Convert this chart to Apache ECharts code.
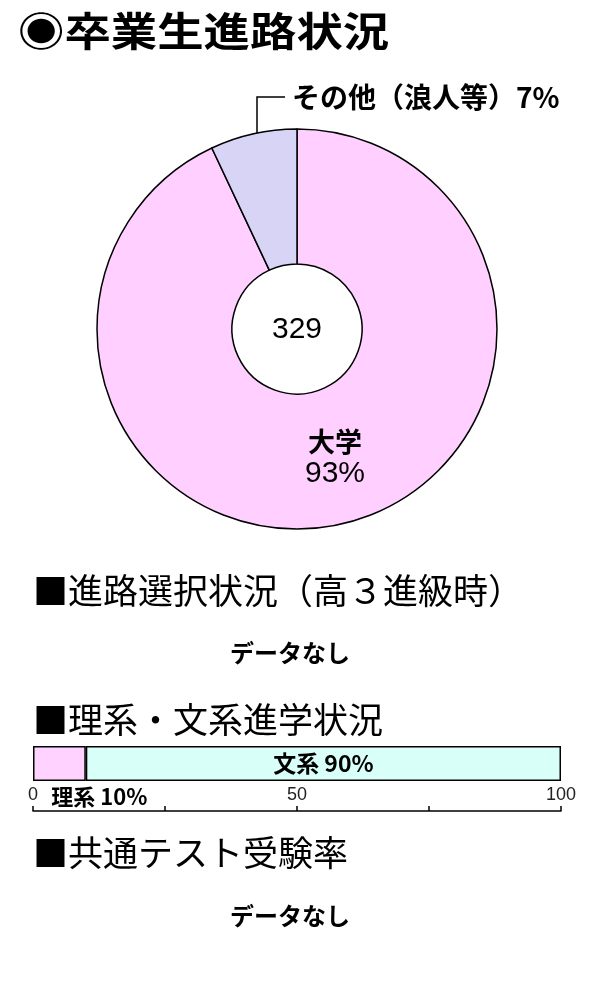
<!DOCTYPE html>
<html>
<head>
<meta charset="utf-8">
<script src="https://cdn.jsdelivr.net/npm/echarts@6/dist/echarts.min.js"></script>
<style>
html,body{margin:0;padding:0;background:#fff;}
#chart{width:600px;height:1000px;}
</style>
</head>
<body>
<div id="chart"></div>
<script>
// ---- data ----
const pageTitle = '◉卒業生進路状況';
const pieCategories = ['大学', 'その他（浪人等）'];
const pieValues = [93, 7];
const totalStudents = 329;
const sectionTitles = ['■進路選択状況（高３進級時）', '■理系・文系進学状況', '■共通テスト受験率'];
const noDataText = 'データなし';
const barCategories = ['理系', '文系'];
const barValues = [10, 90];
const axisTickLabels = ['0', '50', '100'];

const LAT = '"Liberation Sans","Noto Sans CJK JP",sans-serif';
const CJK = '"Noto Sans CJK JP",sans-serif';
const chart = echarts.init(document.getElementById('chart'), null, {renderer: 'canvas'});

const pieColors = ['#FFD0FF', '#D8D4F6'];
const barColors = ['#FFD2FF', '#D8FFF8'];

const option = {
  animation: false,
  backgroundColor: '#fff',
  grid: [{left: 33, right: 39, top: 746, height: 35}],
  xAxis: [{
    type: 'value', min: 0, max: 100, interval: 25,
    position: 'bottom', offset: 30,
    axisLine: {show: true, lineStyle: {color: '#000', width: 1.5}},
    axisTick: {show: true, inside: true, length: 5, lineStyle: {color: '#000', width: 1.5}},
    splitLine: {show: false},
    axisLabel: {
      inside: true, margin: 7, color: '#222', fontSize: 18, fontFamily: LAT,
      formatter: function (v) { return axisTickLabels.indexOf(String(v)) >= 0 ? String(v) : ''; }
    }
  }],
  yAxis: [{type: 'category', data: ['進学'], show: false}],
  graphic: [
    {type: 'text', x: 18, y: 31, scaleX: 1.16,
     style: {text: pageTitle, font: 'bold 40px ' + CJK, fill: '#000', textVerticalAlign: 'middle'}},
    {type: 'text', x: 297, y: 330,
     style: {text: String(totalStudents), font: '30px ' + LAT, fill: '#000', textAlign: 'center', textVerticalAlign: 'middle'}},
    {type: 'text', x: 33, y: 591,
     style: {text: sectionTitles[0], font: '35px ' + CJK, fill: '#000', textVerticalAlign: 'middle'}},
    {type: 'text', x: 290, y: 653,
     style: {text: noDataText, font: 'bold 24px ' + CJK, fill: '#000', textAlign: 'center', textVerticalAlign: 'middle'}},
    {type: 'text', x: 33, y: 720,
     style: {text: sectionTitles[1], font: '35px ' + CJK, fill: '#000', textVerticalAlign: 'middle'}},
    {type: 'text', x: 33, y: 853,
     style: {text: sectionTitles[2], font: '35px ' + CJK, fill: '#000', textVerticalAlign: 'middle'}},
    {type: 'text', x: 290, y: 916,
     style: {text: noDataText, font: 'bold 24px ' + CJK, fill: '#000', textAlign: 'center', textVerticalAlign: 'middle'}}
  ],
  series: [
    {
      type: 'pie',
      center: [297, 329],
      radius: [65, 200],
      startAngle: 90,
      clockwise: true,
      itemStyle: {borderColor: '#000', borderWidth: 1.5},
      emphasis: {disabled: true},
      data: pieCategories.map(function (name, i) {
        const d = {name: name, value: pieValues[i], itemStyle: {color: pieColors[i]}};
        if (i === 0) {
          d.label = {
            show: true, position: 'inside',
            formatter: '{a|{b}}\n{c|{c}%}',
            rich: {
              a: {fontSize: 27, fontWeight: 'bold', fontFamily: CJK, color: '#000', lineHeight: 32, align: 'center'},
              c: {fontSize: 30, fontFamily: LAT, color: '#000', lineHeight: 32, align: 'center'}
            }
          };
          d.labelLine = {show: false};
        } else {
          d.label = {
            show: true, position: 'outside', overflow: 'none', width: 320,
            formatter: '{b}{c}%',
            fontSize: 28, fontWeight: 'bold', fontFamily: CJK, color: '#000'
          };
          d.labelLine = {show: true, lineStyle: {color: '#000', width: 1.5}};
        }
        return d;
      }),
      labelLayout: function (params) {
        if (params.dataIndex === 0) {
          return {x: 335, y: 458, align: 'center', verticalAlign: 'middle'};
        }
        return {
          x: 292, y: 97, align: 'left', verticalAlign: 'middle',
          labelLinePoints: [[257, 158], [257, 97], [285, 97]]
        };
      }
    },
    {
      type: 'bar', name: barCategories[0], stack: 'course',
      barWidth: '100%',
      data: [barValues[0]],
      itemStyle: {color: barColors[0], borderColor: '#000', borderWidth: 1.5},
      label: {show: true, position: 'bottom', distance: 5, offset: [40, 0],
        formatter: '{a} {c}%', fontSize: 22, fontWeight: 'bold', fontFamily: CJK, color: '#000'},
      emphasis: {disabled: true}
    },
    {
      type: 'bar', name: barCategories[1], stack: 'course',
      barWidth: '100%',
      data: [barValues[1]],
      itemStyle: {color: barColors[1], borderColor: '#000', borderWidth: 1.5},
      label: {show: true, position: 'inside',
        formatter: '{a} {c}%', fontSize: 23, fontWeight: 'bold', fontFamily: CJK, color: '#000'},
      emphasis: {disabled: true}
    }
  ]
};
chart.setOption(option);
</script>
</body>
</html>
